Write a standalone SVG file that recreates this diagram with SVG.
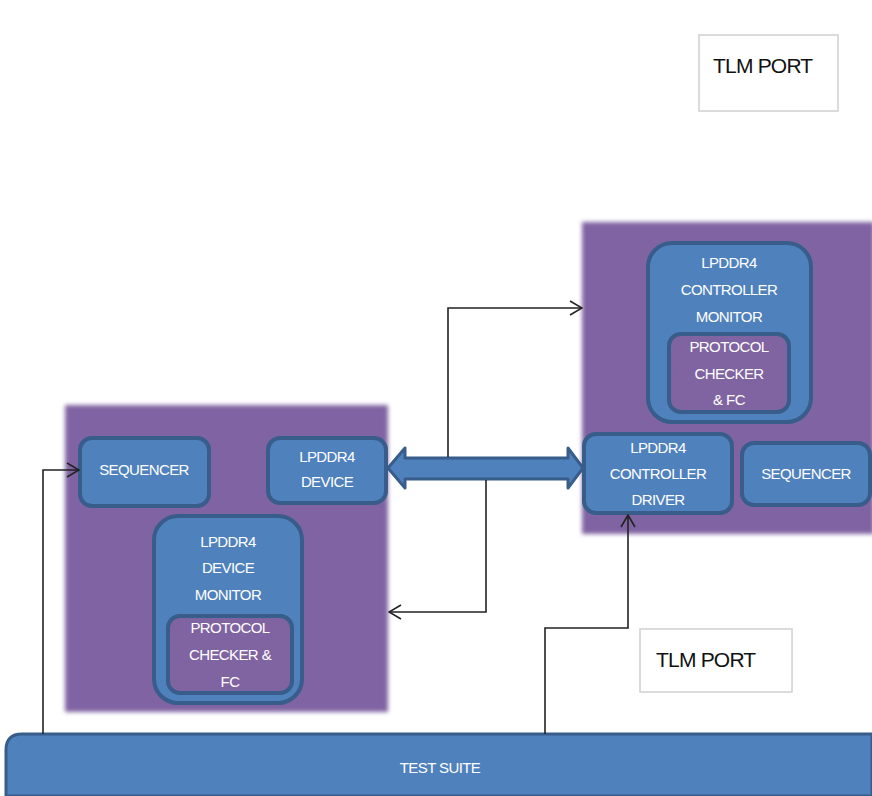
<svg xmlns="http://www.w3.org/2000/svg" width="872" height="796" viewBox="0 0 872 796">
<style>
.panel{fill:#8064A2;}
.box{fill:#4F81BD;stroke:#385D8A;stroke-width:4;}
.inner{fill:#8064A2;stroke:#385D8A;stroke-width:4;}
.t{font-family:"Liberation Sans",Arial,sans-serif;font-size:15px;fill:#ffffff;text-anchor:middle;letter-spacing:-0.6px;}
.port{fill:#ffffff;stroke:#d0d0d0;stroke-width:1.5;}
.pt{font-family:"Liberation Sans",Arial,sans-serif;font-size:21px;fill:#111111;letter-spacing:-0.8px;}
.ln{fill:none;stroke:#222222;stroke-width:1.6;}
</style>
<defs>
<marker id="open" viewBox="0 0 14 16" refX="13" refY="8" markerWidth="14" markerHeight="16" markerUnits="userSpaceOnUse" orient="auto">
<path d="M1,1 L13,8 L1,15" fill="none" stroke="#222222" stroke-width="1.6"/>
</marker>
<filter id="soft" x="-5%" y="-5%" width="110%" height="110%"><feGaussianBlur stdDeviation="2"/></filter>
</defs>
<rect width="872" height="796" fill="#ffffff"/>

<g id="tlm-port-top">
<rect class="port" x="699" y="35" width="139" height="76"/>
<text class="pt" x="713" y="73">TLM PORT</text>
</g>

<g id="controller-env">
<rect class="panel" x="582" y="222" width="292" height="312" filter="url(#soft)"/>
</g>
<g id="controller-monitor">
<rect class="box" x="648" y="243" width="163" height="179" rx="24"/>
<text class="t" x="729" y="268">LPDDR4</text>
<text class="t" x="729" y="295">CONTROLLER</text>
<text class="t" x="729" y="322">MONITOR</text>
</g>
<g id="controller-protocol-checker">
<rect class="inner" x="669" y="334" width="120" height="78" rx="12"/>
<text class="t" x="729" y="352">PROTOCOL</text>
<text class="t" x="729" y="379">CHECKER</text>
<text class="t" x="729" y="405">&amp; FC</text>
</g>
<g id="controller-driver">
<rect class="box" x="584" y="434" width="148" height="79" rx="12"/>
<text class="t" x="658" y="453">LPDDR4</text>
<text class="t" x="658" y="479">CONTROLLER</text>
<text class="t" x="658" y="505">DRIVER</text>
</g>
<g id="sequencer-right">
<rect class="box" x="742" y="443" width="128" height="62" rx="12"/>
<text class="t" x="806" y="479">SEQUENCER</text>
</g>

<g id="device-env">
<rect class="panel" x="65" y="405" width="323" height="307" filter="url(#soft)"/>
</g>
<g id="sequencer-left">
<rect class="box" x="80" y="438" width="129" height="68" rx="12"/>
<text class="t" x="144" y="475">SEQUENCER</text>
</g>
<g id="device">
<rect class="box" x="268" y="438" width="118" height="65" rx="12"/>
<text class="t" x="327" y="462">LPDDR4</text>
<text class="t" x="327" y="487">DEVICE</text>
</g>
<g id="device-monitor">
<rect class="box" x="154" y="516" width="148" height="187" rx="24"/>
<text class="t" x="228" y="547">LPDDR4</text>
<text class="t" x="228" y="573">DEVICE</text>
<text class="t" x="228" y="600">MONITOR</text>
</g>
<g id="device-protocol-checker">
<rect class="inner" x="168" y="616" width="124" height="77" rx="12"/>
<text class="t" x="230" y="633">PROTOCOL</text>
<text class="t" x="230" y="660">CHECKER &amp;</text>
<text class="t" x="230" y="687">FC</text>
</g>

<g id="tlm-port-bottom">
<rect class="port" x="640" y="629" width="152" height="63"/>
<text class="pt" x="656" y="667">TLM PORT</text>
</g>

<g id="test-suite">
<path d="M22,734 L872,734 L872,796 L6,796 L6,750 Q6,734 22,734 Z" fill="#4F81BD" stroke="#385D8A" stroke-width="3"/>
<text class="t" x="440" y="773">TEST SUITE</text>
</g>

<g id="connectors">
<path d="M388,468 L405,448 L405,458 L568,458 L568,448 L583,468 L568,488 L568,479 L405,479 L405,488 Z" fill="#4F81BD" stroke="#385D8A" stroke-width="3" stroke-linejoin="round"/>
<path class="ln" d="M448,457 L448,308 L582,308" marker-end="url(#open)"/>
<path class="ln" d="M486,480 L486,612 L389,612" marker-end="url(#open)"/>
<path class="ln" d="M43,734 L43,470 L79,470" marker-end="url(#open)"/>
<path class="ln" d="M545,734 L545,628 L628,628 L628,515" marker-end="url(#open)"/>
</g>
</svg>
